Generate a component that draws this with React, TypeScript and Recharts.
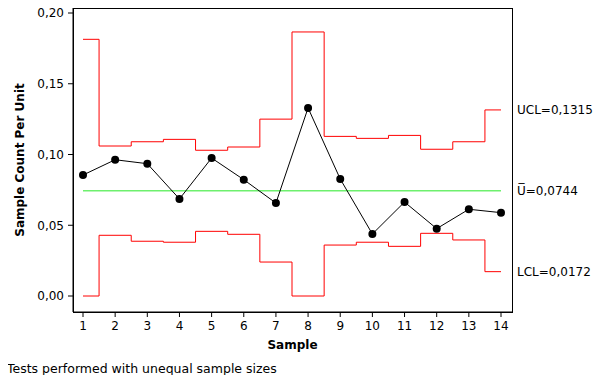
import React from 'react';
import { LineChart, Line, XAxis, YAxis, ReferenceLine, ReferenceDot } from 'recharts';

const samples = [1, 2, 3, 4, 5, 6, 7, 8, 9, 10, 11, 12, 13, 14];
const uValues = [0.0855, 0.0963, 0.0935, 0.0686, 0.0975, 0.0822, 0.0657, 0.1329, 0.0827, 0.0438, 0.0664, 0.0476, 0.0613, 0.0589];
const ucl = [0.1814, 0.106, 0.109, 0.1107, 0.103, 0.1053, 0.125, 0.1866, 0.1128, 0.1114, 0.1135, 0.1037, 0.109, 0.1315];
const lcl = [0, 0.0429, 0.0387, 0.038, 0.0457, 0.0436, 0.024, 0, 0.036, 0.038, 0.0351, 0.0443, 0.0396, 0.0172];
const uBar = 0.0744;
const yTicks = [0, 0.05, 0.1, 0.15, 0.2];

const data = samples.map((s, i) => ({ sample: s, u: uValues[i], ucl: ucl[i], lcl: lcl[i] }));

const FONT = 'DejaVu Sans';
const comma = (v: number, d: number) => v.toFixed(d).replace('.', ',');
const last = samples.length - 1;

const W = 601;
const H = 383;
const M = { top: 8, right: 89, bottom: 31, left: 0 };
const Y_AXIS_W = 73;
const X_AXIS_H = 40;

const tickStyle = { fill: '#000', fontSize: 12, fontFamily: FONT };
const rightLabel = (value: string) => ({
  value,
  position: 'right' as const,
  offset: 16,
  fill: '#000',
  fontSize: 12,
  fontFamily: FONT,
});

const plotW = W - M.left - M.right - Y_AXIS_W;
const plotH = H - M.top - M.bottom - X_AXIS_H;

export default function App() {
  return (
    <div style={{ position: 'relative', width: W, height: H, margin: -8, fontFamily: FONT, background: '#fff' }}>
      <LineChart width={W} height={H} data={data} margin={M}>
        <XAxis
          dataKey="sample"
          type="number"
          domain={[1, 14]}
          ticks={samples}
          padding={{ left: 10, right: 11 }}
          height={X_AXIS_H}
          stroke="#000"
          tickSize={5}
          tickMargin={4}
          tick={tickStyle}
          label={{ value: 'Sample', position: 'insideBottom', offset: 3, fill: '#000', fontSize: 12, fontWeight: 'bold', fontFamily: FONT }}
        />
        <YAxis
          type="number"
          domain={[0, 0.2]}
          ticks={yTicks}
          padding={{ top: 5, bottom: 16 }}
          width={Y_AXIS_W}
          stroke="#000"
          tickSize={5}
          tickMargin={4}
          tick={tickStyle}
          tickFormatter={(v: number) => comma(v, 2)}
          label={{
            value: 'Sample Count Per Unit',
            angle: -90,
            position: 'insideLeft',
            offset: 20,
            fill: '#000',
            fontSize: 12,
            fontWeight: 'bold',
            fontFamily: FONT,
            style: { textAnchor: 'middle' },
          }}
        />
        <Line type="step" dataKey="ucl" stroke="#ff0000" strokeWidth={1} dot={false} isAnimationActive={false} />
        <Line type="step" dataKey="lcl" stroke="#ff0000" strokeWidth={1} dot={false} isAnimationActive={false} />
        <ReferenceLine
          segment={[{ x: 1, y: uBar }, { x: 14, y: uBar }]}
          stroke="#6ef06e"
          strokeWidth={1.5}
          label={rightLabel(`U\u0305=${comma(uBar, 4)}`)}
        />
        <Line
          type="linear"
          dataKey="u"
          stroke="#000"
          strokeWidth={1}
          dot={{ r: 4, fill: '#000', stroke: '#000', strokeWidth: 0 }}
          isAnimationActive={false}
        />
        <ReferenceDot x={samples[last]} y={ucl[last]} r={0} fill="none" stroke="none" label={rightLabel(`UCL=${comma(ucl[last], 4)}`)} />
        <ReferenceDot x={samples[last]} y={lcl[last]} r={0} fill="none" stroke="none" label={rightLabel(`LCL=${comma(lcl[last], 4)}`)} />
      </LineChart>
      <svg
        width={W}
        height={H}
        style={{ position: 'absolute', left: 0, top: 0, pointerEvents: 'none' }}
      >
        {/* box round the plot area, from the same margins as the chart */}
        <rect
          x={M.left + Y_AXIS_W + 0.5}
          y={M.top + 0.5}
          width={plotW}
          height={plotH}
          fill="none"
          stroke="#000"
          strokeWidth={1}
        />
      </svg>
      <div style={{ position: 'absolute', left: 7, top: 362, fontSize: 12.5, lineHeight: '14px', color: '#000' }}>
        Tests performed with unequal sample sizes
      </div>
    </div>
  );
}
